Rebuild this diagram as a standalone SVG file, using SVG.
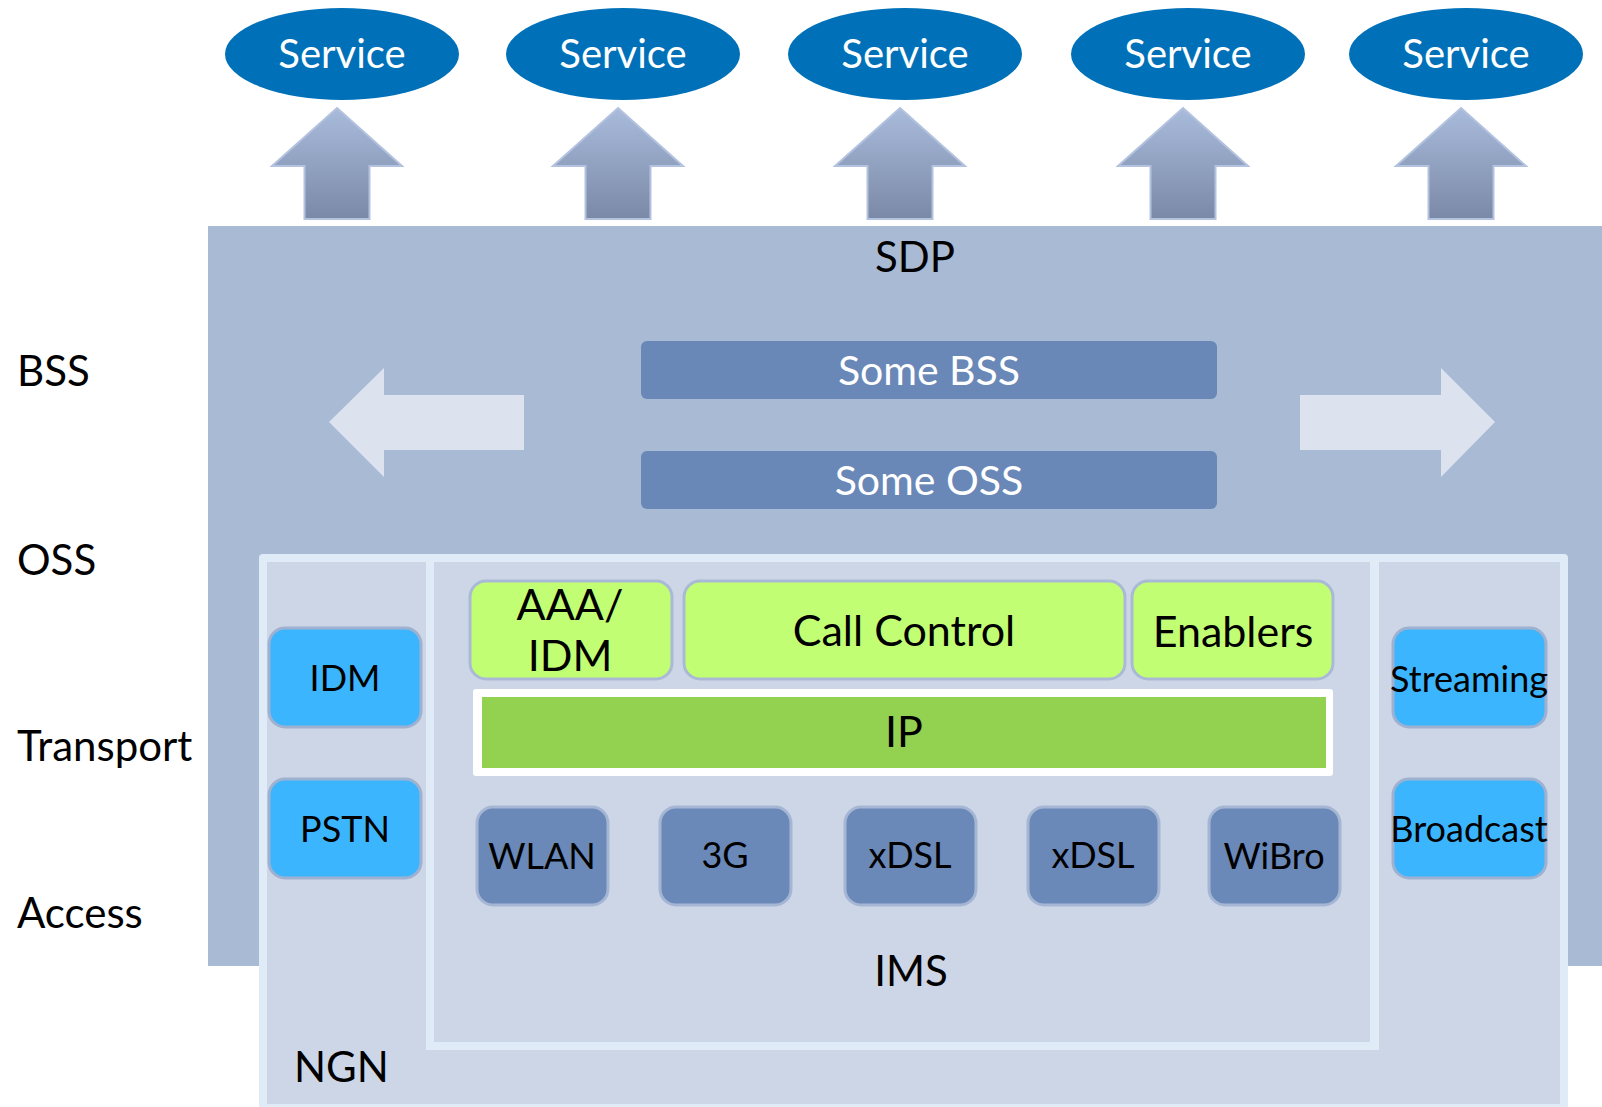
<svg xmlns="http://www.w3.org/2000/svg" width="1602" height="1107" viewBox="0 0 1602 1107">
<defs>
<linearGradient id="upGrad" x1="0" y1="0" x2="0" y2="1">
<stop offset="0" stop-color="#a9bbdc"/>
<stop offset="1" stop-color="#7a89a6"/>
</linearGradient>
<path id="upArrow" d="M0,0 L65,58 L32.5,58 L32.5,111 L-32.5,111 L-32.5,58 L-65,58 Z"/>
</defs>
<style>
text{font-family:Lato,"Noto Sans","DejaVu Sans",sans-serif;}
.svc{fill:#0071b8;}
.svct{fill:#ffffff;font-size:40px;text-anchor:middle;}
.lbl{fill:#000000;font-size:42px;}
.ctr{text-anchor:middle;}
.bar{fill:#6988b8;}
.bart{fill:#ffffff;font-size:41px;text-anchor:middle;}
.green{fill:#c2fe73;stroke:#a9b9d6;stroke-width:3;}
.blue{fill:#3bb5fe;stroke:#9fb1d0;stroke-width:3;}
.acc{fill:#6a88b8;stroke:#a5b6d4;stroke-width:3;}
.bt{fill:#000000;font-size:43px;text-anchor:middle;}
.st{fill:#000000;font-size:36px;text-anchor:middle;}
.up{fill:url(#upGrad);stroke:#b3c2de;stroke-width:2;}
.side{fill:#dce3ef;}
</style>
<rect x="0" y="0" width="1602" height="1107" fill="#ffffff"/>

<g id="sdp">
<rect x="208" y="226" width="1394" height="740" fill="#a9bad5"/>
<text class="lbl ctr" x="915" y="272" font-size="40">SDP</text>
</g>

<g id="side-labels">
<text class="lbl" x="17" y="386">BSS</text>
<text class="lbl" x="17" y="575">OSS</text>
<text class="lbl" x="17" y="761">Transport</text>
<text class="lbl" x="17" y="928">Access</text>
</g>

<g id="services">
<g id="service1"><ellipse class="svc" cx="342" cy="54" rx="117" ry="46"/><text class="svct" x="342" y="68">Service</text></g>
<g id="service2"><ellipse class="svc" cx="623" cy="54" rx="117" ry="46"/><text class="svct" x="623" y="68">Service</text></g>
<g id="service3"><ellipse class="svc" cx="905" cy="54" rx="117" ry="46"/><text class="svct" x="905" y="68">Service</text></g>
<g id="service4"><ellipse class="svc" cx="1188" cy="54" rx="117" ry="46"/><text class="svct" x="1188" y="68">Service</text></g>
<g id="service5"><ellipse class="svc" cx="1466" cy="54" rx="117" ry="46"/><text class="svct" x="1466" y="68">Service</text></g>
</g>

<g id="connectors">
<use href="#upArrow" class="up" x="337" y="108"/>
<use href="#upArrow" class="up" x="618" y="108"/>
<use href="#upArrow" class="up" x="900" y="108"/>
<use href="#upArrow" class="up" x="1183" y="108"/>
<use href="#upArrow" class="up" x="1461" y="108"/>
<path class="side" d="M329,422 L384,368 L384,395 L524,395 L524,450 L384,450 L384,477 Z"/>
<path class="side" d="M1495,422 L1441,368 L1441,395 L1300,395 L1300,450 L1441,450 L1441,477 Z"/>
</g>

<g id="some-bss">
<rect class="bar" x="641" y="341" width="576" height="58" rx="6"/>
<text class="bart" x="929" y="385">Some BSS</text>
</g>
<g id="some-oss">
<rect class="bar" x="641" y="451" width="576" height="58" rx="6"/>
<text class="bart" x="929" y="495">Some OSS</text>
</g>

<g id="ngn">
<rect x="259" y="554" width="1309" height="560" rx="4" fill="#dfebf6"/>
<rect x="267" y="562" width="1293" height="542" fill="#cdd6e6"/>
<text class="lbl" x="294" y="1082" font-size="40">NGN</text>
</g>

<g id="ims">
<rect x="426" y="554" width="953" height="496" fill="#dfebf6"/>
<rect x="434" y="562" width="936" height="480" fill="#cdd6e6"/>
<text class="lbl ctr" x="911" y="986" font-size="40">IMS</text>
</g>

<g id="aaa-idm">
<rect class="green" x="470" y="581" width="202" height="98" rx="16"/>
<text class="bt" x="570" y="620" font-size="40">AAA/</text>
<text class="bt" x="570" y="671" font-size="40">IDM</text>
</g>
<g id="call-control">
<rect class="green" x="684" y="581" width="441" height="98" rx="16"/>
<text class="bt" x="904" y="646">Call Control</text>
</g>
<g id="enablers">
<rect class="green" x="1132" y="581" width="201" height="98" rx="16"/>
<text class="bt" x="1233" y="647">Enablers</text>
</g>

<g id="ip">
<rect x="473" y="689" width="860" height="87" rx="3" fill="#ffffff"/>
<rect x="482" y="697" width="844" height="71" fill="#93d150"/>
<text class="bt" x="904" y="747" font-size="41">IP</text>
</g>

<g id="idm">
<rect class="blue" x="269" y="628" width="152" height="99" rx="16"/>
<text class="st" x="345" y="691">IDM</text>
</g>
<g id="pstn">
<rect class="blue" x="269" y="779" width="152" height="99" rx="16"/>
<text class="st" x="345" y="842">PSTN</text>
</g>
<g id="streaming">
<rect class="blue" x="1393" y="628" width="153" height="99" rx="16"/>
<text class="st" x="1469" y="692">Streaming</text>
</g>
<g id="broadcast">
<rect class="blue" x="1393" y="779" width="153" height="99" rx="16"/>
<text class="st" x="1469" y="842">Broadcast</text>
</g>

<g id="wlan">
<rect class="acc" x="477" y="807" width="131" height="98" rx="16"/>
<text class="st" x="542" y="869">WLAN</text>
</g>
<g id="g3">
<rect class="acc" x="660" y="807" width="131" height="98" rx="16"/>
<text class="st" x="725" y="868">3G</text>
</g>
<g id="xdsl1">
<rect class="acc" x="845" y="807" width="131" height="98" rx="16"/>
<text class="st" x="910" y="868">xDSL</text>
</g>
<g id="xdsl2">
<rect class="acc" x="1028" y="807" width="131" height="98" rx="16"/>
<text class="st" x="1093" y="868">xDSL</text>
</g>
<g id="wibro">
<rect class="acc" x="1209" y="807" width="131" height="98" rx="16"/>
<text class="st" x="1274" y="869">WiBro</text>
</g>
</svg>
